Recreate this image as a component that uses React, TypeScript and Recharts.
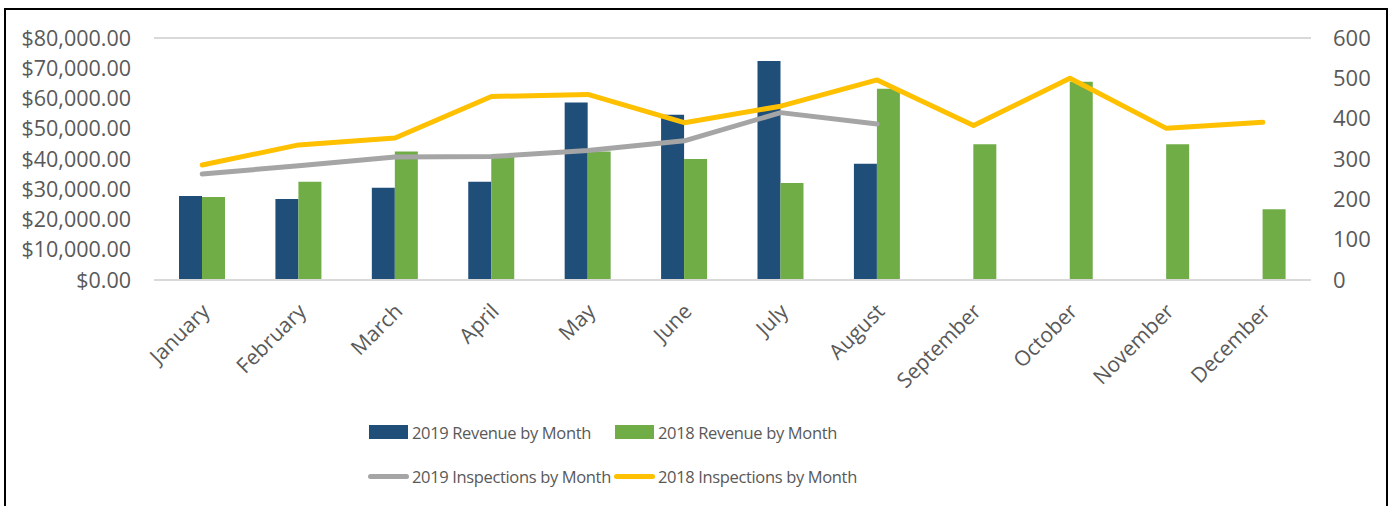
import {
  ComposedChart,
  Bar,
  Line,
  XAxis,
  YAxis,
  CartesianGrid,
  Legend,
} from "recharts";

const months = [
  "January",
  "February",
  "March",
  "April",
  "May",
  "June",
  "July",
  "August",
  "September",
  "October",
  "November",
  "December",
];

const revenue2019 = [27800, 26800, 30500, 32500, 58700, 54600, 72400, 38400, null, null, null, null];
const revenue2018 = [27400, 32500, 42500, 40700, 42500, 40000, 32100, 63200, 44900, 65500, 44900, 23400];
const inspections2019 = [263, 283, 305, 306, 321, 345, 415, 387, null, null, null, null];
const inspections2018 = [285, 335, 352, 455, 460, 390, 431, 496, 383, 500, 376, 391];

const revenueTicks = [0, 10000, 20000, 30000, 40000, 50000, 60000, 70000, 80000];
const inspectionTicks = [0, 100, 200, 300, 400, 500, 600];

const BLUE = "#1f4e79";
const GREEN = "#70ad47";
const GRAY = "#a5a5a5";
const YELLOW = "#ffc000";
const TEXT = "#595959";
const FONT = "'Open Sans', sans-serif";

const data = months.map((m, i) => ({
  month: m,
  rev19: revenue2019[i],
  rev18: revenue2018[i],
  insp19: inspections2019[i],
  insp18: inspections2018[i],
}));

const legendItems = [
  { name: "2019 Revenue by Month", color: BLUE, kind: "rect" },
  { name: "2018 Revenue by Month", color: GREEN, kind: "rect" },
  { name: "2019 Inspections by Month", color: GRAY, kind: "line" },
  { name: "2018 Inspections by Month", color: YELLOW, kind: "line" },
];

const money = (v: number) =>
  "$" + v.toLocaleString("en-US", { minimumFractionDigits: 2, maximumFractionDigits: 2 });

function MonthTick(props: any) {
  const { x, y, payload } = props;
  return (
    <g transform={`translate(${x - 2},${y + 14})`}>
      <text
        transform="rotate(-45)"
        textAnchor="end"
        dy="0.72em"
        fill={TEXT}
        fontSize={21}
        fontFamily={FONT}
      >
        {payload.value}
      </text>
    </g>
  );
}

function renderLegend() {
  return (
    <div style={{ position: "relative", width: 700, height: 70, fontFamily: FONT }}>
      {legendItems.map((item, i) => {
        const col = i % 2;
        const row = Math.floor(i / 2);
        return (
          <div
            key={item.name}
            style={{
              position: "absolute",
              left: col * 246,
              top: row * 44,
              height: 20,
              display: "flex",
              alignItems: "center",
              whiteSpace: "nowrap",
            }}
          >
            {item.kind === "rect" ? (
              <div style={{ width: 39, height: 14, background: item.color, marginLeft: 1, marginRight: 4 }} />
            ) : (
              <div
                style={{ width: 41, height: 5, borderRadius: 3, background: item.color, marginRight: 3 }}
              />
            )}
            <span style={{ fontSize: 16.5, letterSpacing: -0.35, color: TEXT }}>{item.name}</span>
          </div>
        );
      })}
    </div>
  );
}

export default function App() {
  return (
    <div
      style={{
        position: "absolute",
        left: 4,
        top: 8,
        width: 1380,
        height: 500,
        border: "2px solid #000",
        background: "#fff",
      }}
    >
      <ComposedChart
        width={1380}
        height={500}
        data={data}
        margin={{ top: 28, right: 15, bottom: 130, left: 8 }}
        barGap={0}
      >
        <CartesianGrid vertical={false} stroke="#d9d9d9" strokeWidth={2} />
        <XAxis
          dataKey="month"
          axisLine={{ stroke: "#d9d9d9", strokeWidth: 2 }}
          tickLine={false}
          interval={0}
          height={100}
          tick={<MonthTick />}
        />
        <YAxis
          yAxisId="left"
          width={140}
          domain={[0, 80000]}
          ticks={revenueTicks}
          tickFormatter={money}
          axisLine={false}
          tickLine={false}
          tickMargin={17}
          tick={{ fill: TEXT, fontSize: 21.5, fontFamily: FONT }}
        />
        <YAxis
          yAxisId="right"
          orientation="right"
          width={60}
          domain={[0, 600]}
          ticks={inspectionTicks}
          axisLine={false}
          tickLine={false}
          tickMargin={16}
          tick={{ fill: TEXT, fontSize: 22, fontFamily: FONT }}
        />
        <Bar yAxisId="left" dataKey="rev19" name="2019 Revenue by Month" fill={BLUE} barSize={23} isAnimationActive={false} />
        <Bar yAxisId="left" dataKey="rev18" name="2018 Revenue by Month" fill={GREEN} barSize={23} isAnimationActive={false} />
        <Line
          yAxisId="right"
          type="linear"
          dataKey="insp19"
          name="2019 Inspections by Month"
          stroke={GRAY}
          strokeWidth={5}
          strokeLinecap="round"
          strokeLinejoin="round"
          dot={false}
          activeDot={false}
          isAnimationActive={false}
        />
        <Line
          yAxisId="right"
          type="linear"
          dataKey="insp18"
          name="2018 Inspections by Month"
          stroke={YELLOW}
          strokeWidth={5}
          strokeLinecap="round"
          strokeLinejoin="round"
          dot={false}
          activeDot={false}
          isAnimationActive={false}
        />
        <Legend
          layout="horizontal"
          verticalAlign="middle"
          align="center"
          content={renderLegend}
          wrapperStyle={{ left: 362, top: 412, width: 700 }}
        />
      </ComposedChart>
    </div>
  );
}
